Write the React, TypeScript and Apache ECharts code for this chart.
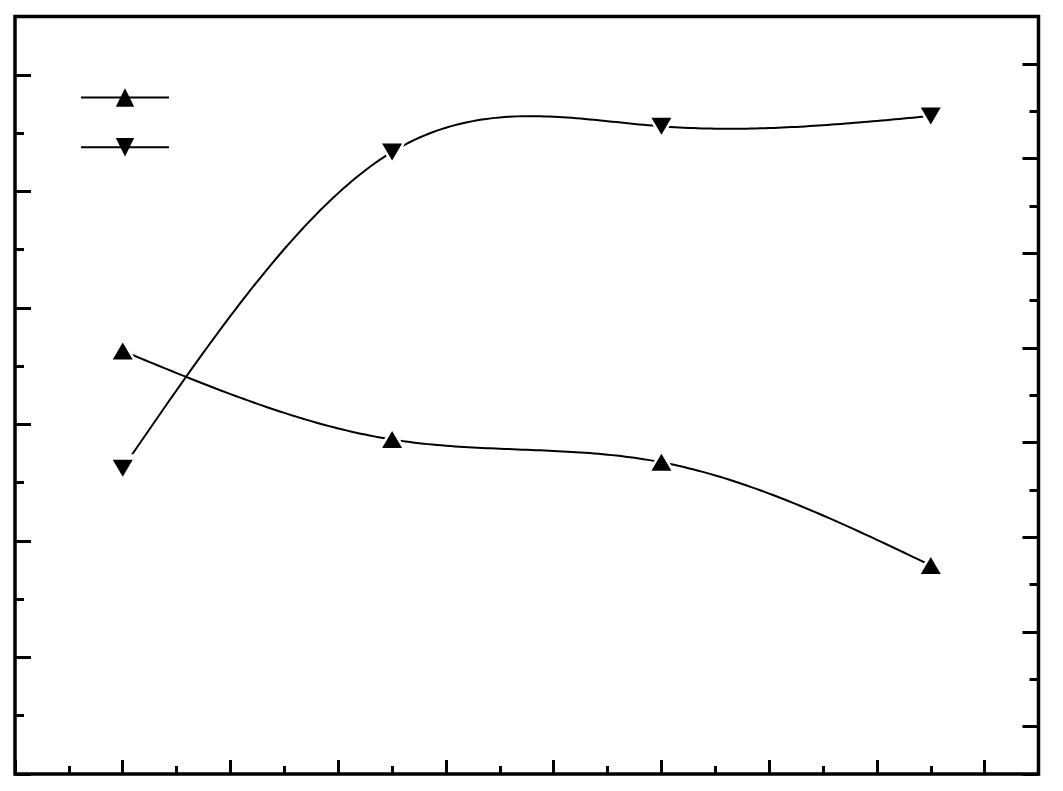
import React, { useEffect, useRef } from "react";
import * as echarts from "echarts";

// x positions (axis units) of the four samples
const xValues = [1, 3.5, 6, 8.5];
// series drawn with up-triangles (left axis units)
const seriesUp = [3.63, 2.87, 2.675, 1.79];
// series drawn with down-triangles (right axis units)
const seriesDown = [3.23, 6.57, 6.84, 6.95];
const seriesNames = ["A", "B"];

const tickBase = (length: number) => ({
  axisLine: { show: false, onZero: false },
  axisLabel: { show: false },
  splitLine: { show: false },
  axisTick: { show: true, inside: true, length, lineStyle: { color: "#000", width: 3 } },
});

// natural cubic spline through pixel points (x strictly increasing)
function splinePoints(pts: number[][], samples: number): number[][] {
  const n = pts.length;
  if (n < 3) return pts;
  const h: number[] = [];
  for (let i = 0; i < n - 1; i++) h.push(pts[i + 1][0] - pts[i][0]);
  const a: number[] = [], b: number[] = [], c: number[] = [], d: number[] = [];
  for (let i = 1; i < n - 1; i++) {
    a.push(h[i - 1]);
    b.push(2 * (h[i - 1] + h[i]));
    c.push(h[i]);
    d.push(6 * ((pts[i + 1][1] - pts[i][1]) / h[i] - (pts[i][1] - pts[i - 1][1]) / h[i - 1]));
  }
  const m = b.length;
  for (let i = 1; i < m; i++) {
    const w = a[i] / b[i - 1];
    b[i] -= w * c[i - 1];
    d[i] -= w * d[i - 1];
  }
  const inner: number[] = new Array(m).fill(0);
  inner[m - 1] = d[m - 1] / b[m - 1];
  for (let i = m - 2; i >= 0; i--) inner[i] = (d[i] - c[i] * inner[i + 1]) / b[i];
  const M = [0, ...inner, 0];
  const out: number[][] = [];
  for (let i = 0; i < n - 1; i++) {
    const x0 = pts[i][0], y0 = pts[i][1], y1 = pts[i + 1][1], hi = h[i];
    for (let s = 0; s <= samples; s++) {
      if (i > 0 && s === 0) continue;
      const t = (s / samples) * hi;
      const A = (hi - t) / hi, B = t / hi;
      const y =
        A * y0 + B * y1 + ((A * A * A - A) * M[i] + (B * B * B - B) * M[i + 1]) * (hi * hi) / 6;
      out.push([x0 + t, y]);
    }
  }
  return out;
}

const curveSeries = (ys: number[], yAxisIndex: number) => ({
  type: "custom",
  xAxisIndex: 0,
  yAxisIndex,
  z: 1,
  silent: true,
  data: xValues.map((x, i) => [x, ys[i]]),
  renderItem: (params: any, api: any) => {
    if (params.dataIndex !== 0) return null;
    const px = xValues.map((x, i) => api.coord([x, ys[i]]));
    return {
      type: "polyline",
      shape: { points: splinePoints(px, 60) },
      style: { stroke: "#000", lineWidth: 2, fill: "none" },
    };
  },
});

export default function App() {
  const ref = useRef<HTMLDivElement>(null);
  useEffect(() => {
    if (!ref.current) return;
    const chart = echarts.init(ref.current, undefined, { renderer: "svg" });
    const pairs = (ys: number[]) => xValues.map((x, i) => [x, ys[i]]);
    const gridRect = { left: 15, top: 16.5, right: 24.5, bottom: 17 };
    const markerSeries = (
      name: string,
      ys: number[],
      yAxisIndex: number,
      rotate: number,
      size: number[],
      color: string,
      z: number
    ) => ({
      name,
      type: "line",
      xAxisIndex: 0,
      yAxisIndex,
      z,
      silent: true,
      data: pairs(ys),
      symbol: "triangle",
      symbolRotate: rotate,
      symbolSize: size,
      showSymbol: true,
      itemStyle: { color },
      lineStyle: { color: "#000", width: 2, opacity: 0 },
    });
    chart.setOption({
      animation: false,
      backgroundColor: "#fff",
      grid: [
        { ...gridRect, show: true, borderColor: "#000", borderWidth: 3.5, backgroundColor: "transparent" },
        { ...gridRect, show: false },
      ],
      legend: {
        orient: "vertical",
        left: 80,
        top: 86,
        padding: 0,
        itemWidth: 88,
        itemHeight: 23,
        itemGap: 29,
        formatter: () => "",
        data: seriesNames,
        selectedMode: false,
        lineStyle: { color: "#000", width: 2, opacity: 1 },
      },
      xAxis: [
        { type: "value", gridIndex: 0, position: "bottom", min: 0, max: 9.5, interval: 1, ...tickBase(14) },
        { type: "value", gridIndex: 1, position: "bottom", min: 0, max: 9.5, interval: 1, inverse: true, ...tickBase(8) },
      ],
      yAxis: [
        { type: "value", gridIndex: 0, position: "left", min: 0, max: 6.5, interval: 1, ...tickBase(16) },
        { type: "value", gridIndex: 0, position: "right", min: 0, max: 8, interval: 1, ...tickBase(9) },
        { type: "value", gridIndex: 1, position: "left", min: 0, max: 6.5, interval: 1, inverse: true, ...tickBase(9) },
        {
          type: "value",
          gridIndex: 1,
          position: "right",
          min: -0.5,
          max: 7.5,
          splitNumber: 8,
          minInterval: 1,
          maxInterval: 1,
          ...tickBase(16),
        },
      ],
      series: [
        curveSeries(seriesUp, 0),
        curveSeries(seriesDown, 1),
        markerSeries("gapA", seriesUp, 0, 0, [32, 28], "#fff", 2),
        markerSeries("gapB", seriesDown, 1, 180, [32, 28], "#fff", 2),
        markerSeries(seriesNames[0], seriesUp, 0, 0, [20, 17], "#000", 3),
        markerSeries(seriesNames[1], seriesDown, 1, 180, [20, 17], "#000", 3),
      ],
    });
    return () => chart.dispose();
  }, []);
  return (
    <div
      ref={ref}
      style={{ position: "fixed", left: 0, top: 0, width: 1063, height: 791, background: "#fff" }}
    />
  );
}
